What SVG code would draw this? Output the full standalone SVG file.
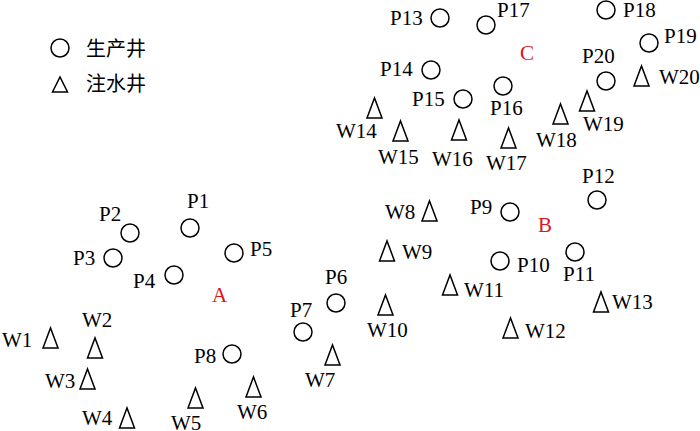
<svg xmlns="http://www.w3.org/2000/svg" width="700" height="431" viewBox="0 0 700 431">
<style>
.c{fill:none;stroke:#000;stroke-width:1.5}
.t{fill:none;stroke:#000;stroke-width:1.5;stroke-linejoin:miter}
text{font-family:"Liberation Serif","Noto Sans CJK SC",serif;font-size:21px;fill:#000}
.r{fill:#e0141e}
.lg{font-size:20px}
</style>
<defs>
<polygon id="tri" class="t" points="-7.5,0 0,-20 7.5,0"/>
<circle id="cir" class="c" r="9"/>
</defs>
<rect width="700" height="431" fill="#fff"/>
<g id="legend">
<use href="#cir" x="60" y="48"/>
<text class="lg" x="86" y="56">生产井</text>
<polygon class="t" points="52.5,92 60,77 67.5,92"/>
<text class="lg" x="86" y="91">注水井</text>
</g>
<g id="regions">
<text class="r" x="212" y="302">A</text>
<text class="r" x="538" y="232">B</text>
<text class="r" x="520" y="60">C</text>
</g>
<g id="connectors"></g>
<g id="P1"><use href="#cir" x="190" y="228"/><text x="187" y="208">P1</text></g>
<g id="P2"><use href="#cir" x="130" y="233"/><text x="99" y="221">P2</text></g>
<g id="P3"><use href="#cir" x="113" y="258"/><text x="73" y="265">P3</text></g>
<g id="P4"><use href="#cir" x="174" y="275"/><text x="133" y="288">P4</text></g>
<g id="P5"><use href="#cir" x="234" y="253"/><text x="250" y="256">P5</text></g>
<g id="P6"><use href="#cir" x="336" y="303"/><text x="325" y="284">P6</text></g>
<g id="P7"><use href="#cir" x="303" y="332"/><text x="290" y="317">P7</text></g>
<g id="P8"><use href="#cir" x="232" y="354"/><text x="194" y="363">P8</text></g>
<g id="P9"><use href="#cir" x="510" y="212"/><text x="470" y="214">P9</text></g>
<g id="P10"><use href="#cir" x="500" y="261"/><text x="517" y="272">P10</text></g>
<g id="P11"><use href="#cir" x="575" y="252"/><text x="563" y="281">P11</text></g>
<g id="P12"><use href="#cir" x="597" y="200"/><text x="582" y="183">P12</text></g>
<g id="P13"><use href="#cir" x="440" y="18"/><text x="390" y="25">P13</text></g>
<g id="P14"><use href="#cir" x="431" y="70"/><text x="380" y="76">P14</text></g>
<g id="P15"><use href="#cir" x="463" y="99"/><text x="412" y="106">P15</text></g>
<g id="P16"><use href="#cir" x="503" y="86"/><text x="490" y="115">P16</text></g>
<g id="P17"><use href="#cir" x="486" y="25"/><text x="497" y="17">P17</text></g>
<g id="P18"><use href="#cir" x="606" y="10"/><text x="623" y="17">P18</text></g>
<g id="P19"><use href="#cir" x="649" y="43"/><text x="664" y="43">P19</text></g>
<g id="P20"><use href="#cir" x="606" y="81"/><text x="582" y="63">P20</text></g>
<g id="W1"><use href="#tri" x="50.5" y="348"/><text x="2" y="347">W1</text></g>
<g id="W2"><use href="#tri" x="95" y="358"/><text x="82" y="327">W2</text></g>
<g id="W3"><use href="#tri" x="87.5" y="389"/><text x="45" y="388">W3</text></g>
<g id="W4"><use href="#tri" x="127" y="428"/><text x="82" y="425">W4</text></g>
<g id="W5"><use href="#tri" x="195.5" y="408"/><text x="171" y="430">W5</text></g>
<g id="W6"><use href="#tri" x="253.5" y="397"/><text x="237" y="419">W6</text></g>
<g id="W7"><use href="#tri" x="332.5" y="365"/><text x="305" y="387">W7</text></g>
<g id="W8"><use href="#tri" x="429.5" y="221"/><text x="385" y="219">W8</text></g>
<g id="W9"><use href="#tri" x="387" y="261"/><text x="402" y="259">W9</text></g>
<g id="W10"><use href="#tri" x="385.5" y="315"/><text x="367" y="337">W10</text></g>
<g id="W11"><use href="#tri" x="450" y="295"/><text x="464" y="297">W11</text></g>
<g id="W12"><use href="#tri" x="510.5" y="338"/><text x="525" y="338">W12</text></g>
<g id="W13"><use href="#tri" x="601" y="312"/><text x="612" y="309">W13</text></g>
<g id="W14"><use href="#tri" x="374.5" y="118"/><text x="336" y="138">W14</text></g>
<g id="W15"><use href="#tri" x="400.5" y="141"/><text x="378" y="164">W15</text></g>
<g id="W16"><use href="#tri" x="459" y="140"/><text x="432" y="166">W16</text></g>
<g id="W17"><use href="#tri" x="508.5" y="148"/><text x="486" y="170">W17</text></g>
<g id="W18"><use href="#tri" x="560.5" y="124"/><text x="536" y="147">W18</text></g>
<g id="W19"><use href="#tri" x="587" y="111"/><text x="583" y="131">W19</text></g>
<g id="W20"><use href="#tri" x="641.5" y="86"/><text x="659" y="84">W20</text></g>
</svg>
